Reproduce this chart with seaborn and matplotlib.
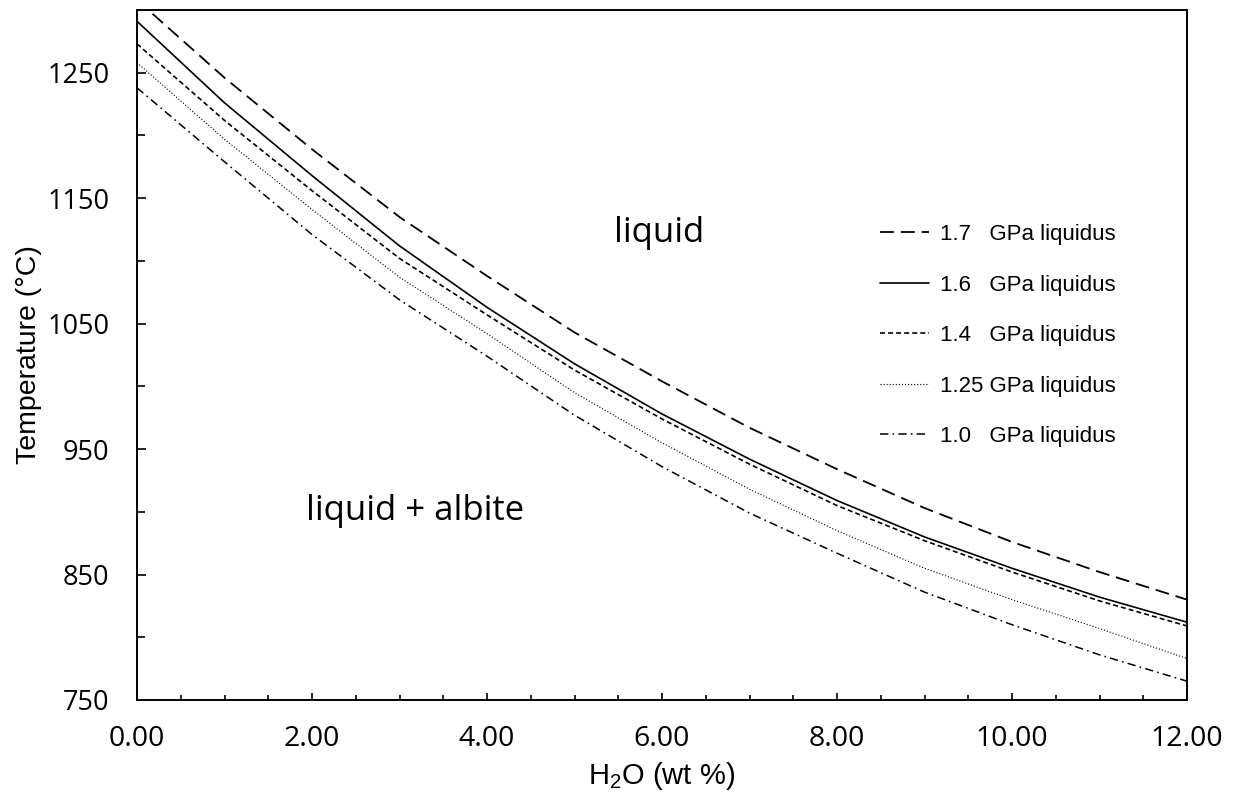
import numpy as np
import pandas as pd
import matplotlib
matplotlib.use("Agg")
import matplotlib.pyplot as plt
import seaborn as sns
from matplotlib.ticker import MultipleLocator, FormatStrFormatter

# ---- data ----
h2o = [0, 1, 2, 3, 4, 5, 6, 7, 8, 9, 10, 11, 12]
t_17 = [1308, 1246, 1189, 1135, 1088, 1043, 1004, 967, 934, 903, 876, 852, 830]
t_16 = [1291, 1226, 1168, 1112, 1063, 1018, 978, 942, 909, 880, 855, 832, 812]
t_14 = [1273, 1212, 1156, 1102, 1057, 1013, 974, 938, 905, 877, 852, 829, 809]
t_125 = [1258, 1197, 1141, 1087, 1042, 995, 955, 918, 885, 855, 830, 807, 783]
t_10 = [1238, 1179, 1121, 1069, 1024, 977, 936, 899, 867, 836, 810, 786, 765]

labels = ["1.7   GPa liquidus", "1.6   GPa liquidus", "1.4   GPa liquidus",
          "1.25 GPa liquidus", "1.0   GPa liquidus"]
series = [t_17, t_16, t_14, t_125, t_10]

sns.set_theme(style="ticks")
plt.rcParams["font.family"] = ["Liberation Sans", "DejaVu Sans"]
plt.rcParams["mathtext.default"] = "regular"
plt.rcParams["lines.scale_dashes"] = False
for k in ["text.color", "axes.labelcolor", "xtick.color", "ytick.color", "axes.edgecolor"]:
    plt.rcParams[k] = "black"

styles = [
    dict(lw=1.3, ls=(0, (10, 5))),
    dict(lw=1.2, ls="-"),
    dict(lw=1.2, ls=(0, (3.6, 2.2))),
    dict(lw=0.8, ls=(0, (0.8, 1.4))),
    dict(lw=1.1, ls=(0, (6, 3, 1.2, 3))),
]

fig = plt.figure(figsize=(12.35, 7.97), dpi=100)
ax = fig.add_axes([137 / 1235, 97 / 797, 1050 / 1235, 690 / 797])

for vals, lab, st in zip(series, labels, styles):
    sns.lineplot(x=h2o, y=vals, ax=ax, color="black", label=lab,
                 linewidth=st["lw"], linestyle=st["ls"])

ax.set_xlim(0, 12)
ax.set_ylim(750, 1300)

ax.xaxis.set_major_locator(MultipleLocator(2))
ax.xaxis.set_minor_locator(MultipleLocator(0.5))
ax.xaxis.set_major_formatter(FormatStrFormatter("%.2f"))
ax.set_yticks([750, 850, 950, 1050, 1150, 1250])
ax.yaxis.set_minor_locator(MultipleLocator(50))

ax.tick_params(axis="x", which="major", direction="in", length=5, width=1.2,
               pad=18, labelsize=20.5, top=False)
ax.tick_params(axis="x", which="minor", direction="in", length=3.6, width=1.2, top=False)
ax.tick_params(axis="y", which="major", direction="in", length=6.5, width=1.2,
               pad=20, labelsize=19.5, right=False)
ax.tick_params(axis="y", which="minor", direction="in", length=5.8, width=1.2, right=False)
for lab in ax.get_xticklabels() + ax.get_yticklabels():
    lab.set_fontfamily(["Open Sans", "DejaVu Sans"])

for sp in ax.spines.values():
    sp.set_visible(True)
    sp.set_linewidth(1.4)
    sp.set_color("black")

ax.set_xlabel("H$_2$O (wt %)", fontsize=21, labelpad=5)
ax.set_ylabel("Temperature (°C)", fontsize=20.5, labelpad=4)

ax.text(5.97, 1122, "liquid", fontsize=25, ha="center", va="center",
        family=["Open Sans", "DejaVu Sans"])
ax.text(3.18, 901, "liquid + albite", fontsize=25, ha="center", va="center",
        family=["Open Sans", "DejaVu Sans"])

leg = ax.legend(loc="upper left", bbox_to_anchor=((880 - 137) / 1050, (700 - 224) / 690),
                frameon=False, fontsize=16, handlelength=2.2, handletextpad=0.5,
                labelspacing=1.33, borderpad=0, borderaxespad=0)

fig.savefig("out.png", dpi=100, facecolor="white")
